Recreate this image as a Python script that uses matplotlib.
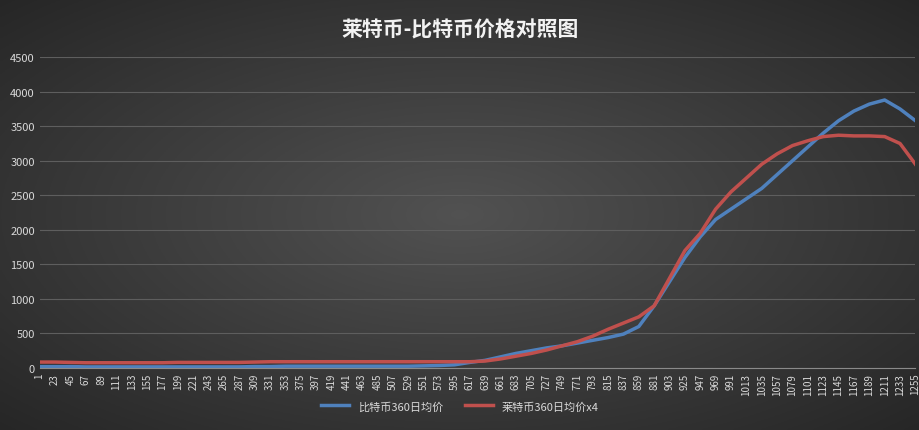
import numpy as np
import matplotlib
matplotlib.use("Agg")
import matplotlib.pyplot as plt

plt.rcParams['font.family'] = ['Noto Sans CJK SC', 'DejaVu Sans']

# values at every 22nd day
days = list(range(1, 1256, 22))
btc = [20, 20, 20, 15, 15, 15, 15, 15, 15, 15, 15, 15, 15, 15, 20, 20,
       25, 25, 25, 25, 25, 25, 25, 25, 25, 30, 35, 45, 80, 110, 160, 210,
       250, 290, 320, 360, 400, 440, 490, 600, 900, 1250, 1600, 1900, 2150,
       2300, 2450, 2600, 2800, 3000, 3200, 3400, 3580, 3720, 3820, 3880,
       3750, 3580]
ltc4 = [85, 85, 80, 75, 75, 75, 75, 75, 75, 80, 80, 80, 80, 80, 85, 90,
        90, 90, 90, 90, 90, 90, 90, 90, 90, 90, 90, 90, 90, 100, 130, 170,
        210, 260, 320, 380, 460, 560, 650, 740, 900, 1300, 1700, 1950, 2300,
        2550, 2750, 2950, 3100, 3220, 3290, 3350, 3370, 3360, 3360, 3350,
        3250, 2950]

fig = plt.figure(figsize=(9.2, 4.31), dpi=100)
# radial dark grey background
bg = fig.add_axes([0, 0, 1, 1])
yy, xx = np.mgrid[-1:1:200j, -1:1:400j]
r = np.sqrt(xx ** 2 + yy ** 2)
g = np.clip(0.32 - 0.12 * r, 0.15, 0.32)
bg.imshow(np.dstack([g, g, g]), aspect="auto", extent=[0, 1, 0, 1])
bg.set_axis_off()

ax = fig.add_axes([0.043, 0.144, 0.952, 0.721])
ax.patch.set_alpha(0)
ax.plot(days, btc, color="#4f81bd", lw=2.5, label="比特币360日均价")
ax.plot(days, ltc4, color="#c0504d", lw=2.5, label="莱特币360日均价x4")
ax.set_ylim(0, 4500)
ax.set_yticks(range(0, 4501, 500))
ax.set_xlim(1, 1255)
ax.set_xticks(days)
ax.tick_params(axis="x", rotation=90, labelsize=7, colors="#d9d9d9", length=0)
ax.tick_params(axis="y", labelsize=8, colors="#d9d9d9", length=0)
ax.grid(axis="y", color="#5e5e5e", lw=0.8)
for s in ax.spines.values():
    s.set_visible(False)
ax.spines["bottom"].set_visible(True)
ax.spines["bottom"].set_color("#8a8a8a")
fig.text(0.5, 0.915, "莱特币-比特币价格对照图", ha="center", fontsize=15,
         color="#f2f2f2", fontweight="bold")
fig.legend(loc="lower center", bbox_to_anchor=(0.5, 0.02), ncol=2, frameon=False,
           fontsize=8, labelcolor="#d9d9d9", handlelength=2.5)
fig.savefig("out.png", dpi=100)
